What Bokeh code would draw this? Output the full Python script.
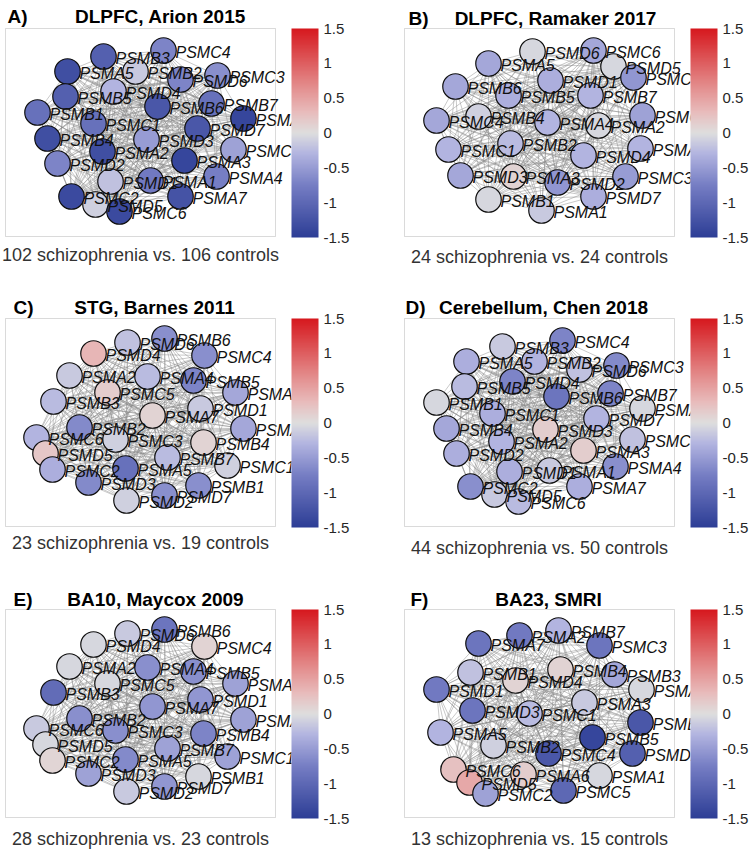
from itertools import combinations
from bokeh.plotting import figure
from bokeh.layouts import gridplot
from bokeh.models import (ColumnDataSource, LinearColorMapper, ColorBar, FixedTicker,
                          CustomJSTickFormatter, Label, BoxAnnotation)
from bokeh.core.properties import value
from bokeh.embed import file_html
from bokeh.resources import INLINE

# ---------------- data ----------------
# layout 1 (panels A and D)
names1 = ["PSMB3","PSMC4","PSMA5","PSMB2","PSMD6","PSMC3","PSMB5","PSMD4","PSMB6","PSMB7",
          "PSMB1","PSMA6","PSMC1","PSMB4","PSMD3","PSMD7","PSMC5","PSMA2","PSMD2","PSMA3",
          "PSMD1","PSMA1","PSMA4","PSMC2","PSMA7","PSMD5","PSMC6"]
x1 = [98,158,62,130,175,212,60,108,152,206,32,238,88,42,141,192,228,97,52,179,105,145,211,66,175,90,114]
y1 = [28,22,43,43,51,47,68,63,78,75,84,90,95,110,111,100,121,123,135,132,153,152,148,168,168,176,183]
vals_A = [-1.1,-0.7,-1.3,-0.15,-0.7,-0.6,-1.1,-0.3,-1.2,-0.9,-0.9,-1.4,-0.9,-1.3,-0.5,-1.2,-0.45,
          -1.3,-0.7,-1.4,-0.2,-0.8,-0.75,-1.35,-1.25,-0.1,-1.35]
vals_D = [-0.15,-0.7,-0.35,-0.3,-0.2,-0.65,-0.25,-0.7,-0.85,-0.7,-0.05,-0.05,-0.35,-0.4,0.15,-0.3,
          -0.2,-0.3,-0.35,0.15,-0.35,-0.15,-0.6,-0.6,-0.35,-0.15,-0.25]

# layout for panel B
names_b = ["PSMD6","PSMC6","PSMD5","PSMC2","PSMA5","PSMD1","PSMB6","PSMB5","PSMB7","PSMC4",
           "PSMB4","PSMA4","PSMA2","PSMC5","PSMC1","PSMB2","PSMD4","PSMA6","PSMD3","PSMA3",
           "PSMD2","PSMC3","PSMD7","PSMB1","PSMA1"]
x_b = [128,189,209,229,84,146,51,104,186,32,74,143,194,238,44,106,179,236,56,109,153,221,189,84,137]
y_b = [23,22,38,49,35,52,58,67,67,92,88,94,97,87,121,115,127,120,147,148,154,148,168,171,182]
vals_B = [-0.05,-0.4,-0.05,-0.55,-0.4,-0.35,-0.4,-0.35,-0.3,-0.4,-0.1,-0.3,-0.05,-0.45,-0.3,
          -0.25,-0.3,-0.3,-0.4,0.1,-0.55,-0.5,-0.35,-0.05,-0.15]

# layout 2 (panels C and E)
names2 = ["PSMD6","PSMB6","PSMD4","PSMC4","PSMA2","PSMA4","PSMB5","PSMA6","PSMC5","PSMB3",
          "PSMA7","PSMD1","PSMB2","PSMA3","PSMC6","PSMC3","PSMB4","PSMD5","PSMB7","PSMC1",
          "PSMC2","PSMA5","PSMD3","PSMB1","PSMD2","PSMD7"]
x2 = [122,159,88,199,64,142,188,230,102,48,147,195,74,238,31,110,198,40,162,222,47,120,83,193,121,159]
y2 = [24,20,35,37,57,58,62,74,74,83,97,90,109,110,119,121,124,135,139,147,151,150,164,167,182,177]
vals_C = [-0.2,-0.6,0.35,-0.6,-0.15,-0.25,-0.7,-0.4,0.15,-0.25,0.1,-0.15,-0.65,-0.4,-0.3,-0.1,
          0.1,0.2,-0.25,-0.1,-0.35,-0.9,-0.65,-0.6,-0.1,-0.6]
vals_E = [-0.15,-0.85,-0.05,0.1,-0.05,-0.6,-0.6,-0.45,-0.05,-0.95,-0.55,-0.55,-0.6,-0.45,-0.15,
          -0.6,-0.7,-0.05,-0.45,-0.45,0.08,-0.65,-0.45,-0.05,-0.15,-0.55]

# layout for panel F
names_f = ["PSMA7","PSMA2","PSMB7","PSMC3","PSMB1","PSMD4","PSMB4","PSMB3","PSMD1","PSMA4",
           "PSMD3","PSMC1","PSMA3","PSMB6","PSMA5","PSMB5","PSMB2","PSMC4","PSMD2","PSMC6",
           "PSMD5","PSMA6","PSMA1","PSMC2","PSMC5"]
x_f = [74,115,154,195,66,111,156,210,32,237,68,125,180,236,36,188,89,144,228,49,65,119,195,81,159]
y_f = [34,26,21,36,63,71,60,65,80,80,101,104,93,113,123,128,136,144,144,160,173,165,166,184,181]
vals_F = [-0.85,-0.8,-0.3,-0.85,-0.2,0.1,0.1,-0.4,-0.8,-0.05,-0.85,-0.25,-0.15,-1.2,-0.3,-1.4,
          -0.1,-1.2,-1.1,0.25,0.45,0.15,-0.05,-0.45,-1.0]

letters = ["A)", "B)", "C)", "D)", "E)", "F)"]
titles = ["DLPFC, Arion 2015", "DLPFC, Ramaker 2017", "STG, Barnes 2011",
          "Cerebellum, Chen 2018", "BA10, Maycox 2009", "BA23, SMRI"]
subtitles = ["102 schizophrenia vs. 106 controls", "24 schizophrenia vs. 24 controls",
             "23 schizophrenia vs. 19 controls", "44 schizophrenia vs. 50 controls",
             "28 schizophrenia vs. 23 controls", "13 schizophrenia vs. 15 controls"]
cbar_ticks = [-1.5, -1, -0.5, 0, 0.5, 1, 1.5]

# ---------------- style / layout ----------------
def make_palette():
    anchors = [(0.0, (45, 62, 150)), (0.25, (118, 126, 196)), (0.40, (178, 180, 224)),
               (0.5, (222, 222, 222)), (0.60, (232, 188, 188)), (0.75, (226, 130, 130)),
               (1.0, (214, 24, 30))]
    pal = []
    for i in range(256):
        t = i / 255
        for (t0, c0), (t1, c1) in zip(anchors[:-1], anchors[1:]):
            if t0 <= t <= t1:
                f = (t - t0) / (t1 - t0)
                c = [round(a + (b - a) * f) for a, b in zip(c0, c1)]
                pal.append("#%02x%02x%02x" % tuple(c))
                break
    return pal

mapper = LinearColorMapper(palette=make_palette(), low=-1.5, high=1.5)
FONT_NAME = "Liberation Sans"
FONT = value(FONT_NAME)
BOX_W, BOX_H = 270, 208

panel_data = [
    (names1, x1, y1, vals_A), (names_b, x_b, y_b, vals_B),
    (names2, x2, y2, vals_C), (names1, x1, y1, vals_D),
    (names2, x2, y2, vals_E), (names_f, x_f, y_f, vals_F),
]
# figure sizes and ranges: 1 data unit = 1 px, origin at the box's top-left corner
col_w = [378, 376]
row_h = [290, 290, 269]
x_ranges = [(-5, 373), (-26, 350)]
y_ranges = [(262, -28), (262, -28), (240, -29)]
letter_x = [2, 4, 8, 1, 8, 6]
title_cx = [155, 151, 149, 139, 150, 144]
title_y = [-12.5, -10.5, -11.5, -11.5, -10.5, -10.5]
sub_y = [226, 228, 224, 229, 229, 229]

figs = []
for k, (nm, xs, ys, vs) in enumerate(panel_data):
    r, c = divmod(k, 2)
    xr, yr = x_ranges[c], y_ranges[r]
    p = figure(width=col_w[c], height=row_h[r], x_range=xr, y_range=yr,
               output_backend="svg", toolbar_location=None, min_border=0,
               x_axis_location=None, y_axis_location=None)
    p.grid.visible = False
    p.outline_line_color = None
    p.background_fill_color = "white"

    ex, ey = [], []
    for i, j in combinations(range(len(nm)), 2):
        ex.append([xs[i], xs[j]])
        ey.append([ys[i], ys[j]])
    p.multi_line(ex, ey, line_color="#888888", line_alpha=0.5, line_width=0.9)

    src = ColumnDataSource(dict(x=xs, y=ys, v=vs, name=nm))
    p.scatter("x", "y", source=src, size=25.5, marker="circle",
              fill_color={"field": "v", "transform": mapper},
              line_color="#111111", line_width=1.2)
    p.text("x", "y", text="name", source=src, x_offset=12, y_offset=2,
           text_font=FONT, text_font_style="italic", text_font_size="16px",
           text_color="#111111", text_baseline="middle", text_align="left")

    p.add_layout(BoxAnnotation(left=0, right=BOX_W, top=0, bottom=BOX_H,
                               fill_alpha=0, line_color="#858585", line_width=1))

    p.add_layout(Label(x=letter_x[k], y=title_y[k], text=letters[k], text_font=FONT_NAME,
                       text_font_style="bold", text_font_size="19px", text_color="black",
                       text_baseline="middle", text_align="left"))
    p.add_layout(Label(x=title_cx[k], y=title_y[k], text=titles[k], text_font=FONT_NAME,
                       text_font_style="bold", text_font_size="19px", text_color="black",
                       text_baseline="middle", text_align="center"))
    p.add_layout(Label(x=BOX_W / 2, y=sub_y[k], text=subtitles[k], text_font=FONT_NAME,
                       text_font_size="18px", text_color="#333333",
                       text_baseline="middle", text_align="center"))

    cb = ColorBar(color_mapper=mapper, ticker=FixedTicker(ticks=cbar_ticks),
                  formatter=CustomJSTickFormatter(code="return tick.toString();"),
                  width=27, height=209, location=(BOX_W + 16 - xr[0], yr[0] - 209),
                  padding=0, margin=0, label_standoff=5,
                  major_tick_line_color=None, bar_line_color=None,
                  border_line_color=None, background_fill_color="white",
                  background_fill_alpha=1.0,
                  major_label_text_font=FONT_NAME, major_label_text_font_size="15px",
                  major_label_text_color="#262626")
    p.add_layout(cb, "center")
    figs.append(p)

grid = gridplot([[figs[0], figs[1]], [figs[2], figs[3]], [figs[4], figs[5]]],
                toolbar_location=None)
open("out.html", "w").write(file_html(grid, INLINE))
